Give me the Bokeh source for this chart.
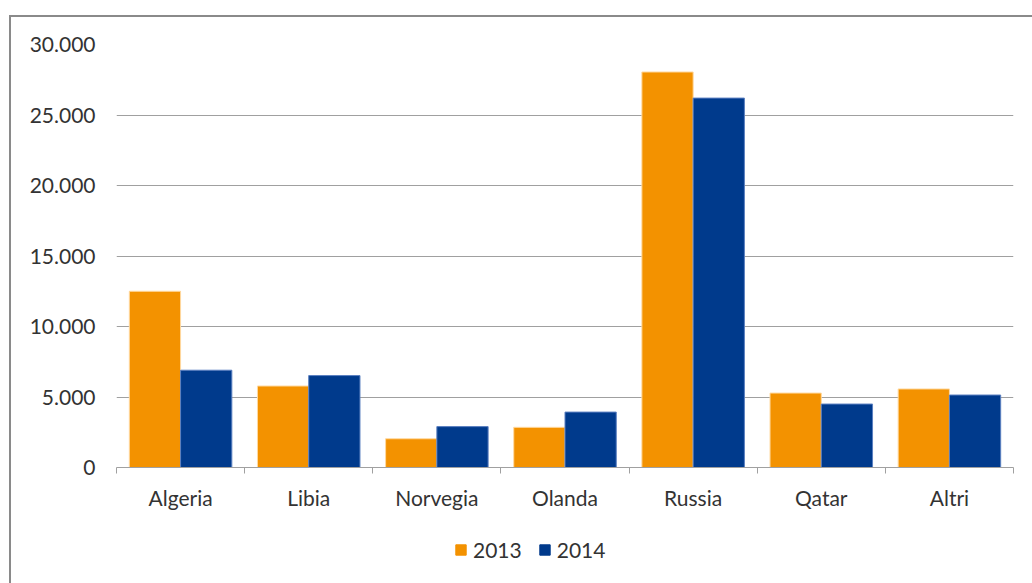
from bokeh.plotting import figure
from bokeh.layouts import column
from bokeh.models import FixedTicker, Legend, LegendItem, ColumnDataSource, Range1d
from bokeh.embed import file_html
from bokeh.resources import INLINE

categories = ["Algeria", "Libia", "Norvegia", "Olanda", "Russia", "Qatar", "Altri"]
series_names = ["2013", "2014"]
values_2013 = [12500, 5780, 2040, 2850, 28050, 5280, 5570]
values_2014 = [6900, 6520, 2900, 3930, 26200, 4500, 5140]
y_ticks = [0, 5000, 10000, 15000, 20000, 25000, 30000]
y_tick_labels = ["0", "5.000", "10.000", "15.000", "20.000", "25.000", "30.000"]
colors = ["#F39200", "#003A8C"]

FONT = "Lato"
TEXT = "#333333"
GRID = "#a0a0a0"

centers = [i + 0.5 for i in range(len(categories))]
src = ColumnDataSource(dict(
    x13=[c - 0.2 for c in centers],
    x14=[c + 0.2 for c in centers],
    v13=values_2013,
    v14=values_2014,
))

p = figure(width=1021, height=510, output_backend="svg", toolbar_location=None,
           x_range=Range1d(0, len(categories)), y_range=Range1d(0, 30000),
           min_border_left=105, min_border_right=19, min_border_top=27, min_border_bottom=60,
           background_fill_color="white", border_fill_color="white")
p.outline_line_color = None

r13 = p.vbar(x="x13", top="v13", width=0.4, source=src, fill_color=colors[0],
             line_color="#ffd9a0", line_width=1)
r14 = p.vbar(x="x14", top="v14", width=0.4, source=src, fill_color=colors[1],
             line_color="#5a7fc0", line_width=1)

# x axis
xa = p.xaxis[0]
xa.ticker = FixedTicker(ticks=centers, minor_ticks=list(range(len(categories) + 1)))
xa.major_label_overrides = {c: name for c, name in zip(centers, categories)}
xa.major_tick_line_color = None
xa.major_tick_out = 0
xa.major_tick_in = 0
xa.minor_tick_line_color = GRID
xa.minor_tick_out = 6
xa.minor_tick_in = 0
xa.axis_line_color = GRID
xa.axis_line_width = 1
xa.major_label_text_font = FONT
xa.major_label_text_font_size = "21px"
xa.major_label_text_color = TEXT
xa.major_label_standoff = 11

# y axis
ya = p.yaxis[0]
ya.ticker = FixedTicker(ticks=y_ticks)
ya.major_label_overrides = {t: l for t, l in zip(y_ticks, y_tick_labels)}
ya.axis_line_color = None
ya.major_tick_line_color = None
ya.minor_tick_line_color = None
ya.major_tick_out = 0
ya.major_tick_in = 0
ya.major_label_standoff = 21
ya.major_label_text_font = FONT
ya.major_label_text_font_size = "21px"
ya.major_label_text_color = TEXT

p.xgrid.grid_line_color = None
p.ygrid.grid_line_color = GRID
p.ygrid.grid_line_width = 1
p.ygrid.ticker = FixedTicker(ticks=y_ticks)

# legend strip below the chart (swatch renderers sit outside the visible range)
lf = figure(width=1021, height=56, output_backend="svg", toolbar_location=None,
            x_range=Range1d(0, 1), y_range=Range1d(0, 1),
            x_axis_location=None, y_axis_location=None,
            min_border_left=0, min_border_right=0, min_border_top=0, min_border_bottom=0,
            background_fill_color="white", border_fill_color="white")
lf.outline_line_color = None
lf.grid.visible = False
swatch = ColumnDataSource(dict(x=[-10], top=[0]))
l13 = lf.vbar(x="x", top="top", width=0.1, source=swatch, fill_color=colors[0], line_color=colors[0])
l14 = lf.vbar(x="x", top="top", width=0.1, source=swatch, fill_color=colors[1], line_color=colors[1])

legend = Legend(items=[LegendItem(label=series_names[0], renderers=[l13]),
                       LegendItem(label=series_names[1], renderers=[l14])],
                orientation="horizontal", location=(338, 21),
                label_text_font=FONT, label_text_font_size="21px", label_text_color=TEXT,
                glyph_width=13, glyph_height=13, label_standoff=6, spacing=16,
                border_line_color=None, background_fill_alpha=0, padding=4, margin=0)
lf.add_layout(legend, "center")

layout = column(p, lf, spacing=0, margin=(15, 0, 0, 9),
                styles={"border-top": "2px solid #8a8a8a", "border-left": "2px solid #8a8a8a"})

open("out.html", "w").write(file_html(layout, INLINE))
